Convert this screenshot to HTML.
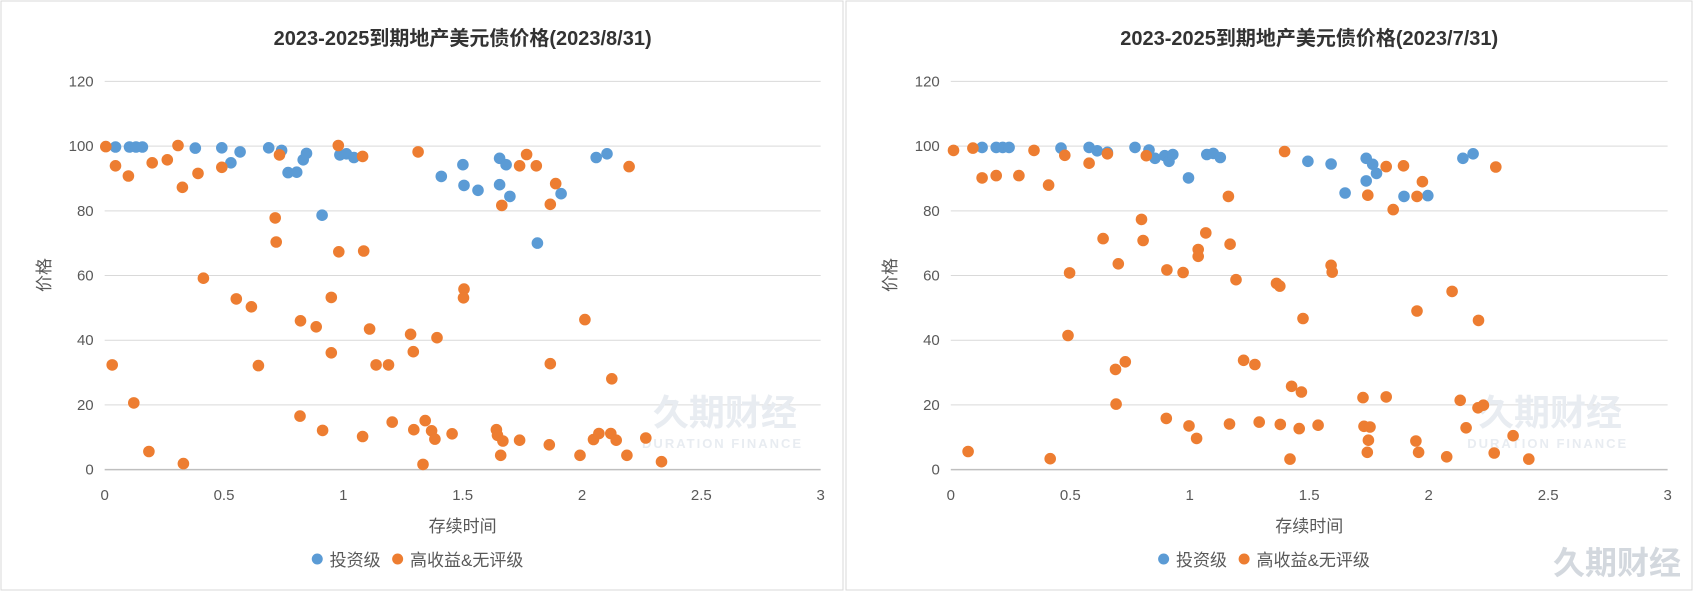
<!DOCTYPE html>
<html><head><meta charset="utf-8"><style>
html,body{margin:0;padding:0;background:#fff;}
svg text{font-family:"Liberation Sans","Noto Sans CJK SC",sans-serif;}
</style></head><body>
<svg id="s" width="1693" height="591" xmlns="http://www.w3.org/2000/svg"></svg>
<script>
const S=document.getElementById('s');
let h='';
h+='<rect x="1" y="1" width="842" height="589" fill="#fff" stroke="#d9d9d9"/>';
h+='<rect x="846" y="1" width="846" height="589" fill="#fff" stroke="#d9d9d9"/>';
function panel(ox,sx,title,blue,orange,wx){
  const x0=ox+194*sx, x3=ox+1521*sx, ux=(x3-x0)/3;
  const sy=591/1568, y0=1246*sy, y120=216*sy, uy=(y0-y120)/120;
  let g='';
  for(let v=0;v<=120;v+=20){const y=y0-v*uy;
    g+=`<line x1="${x0}" x2="${x3}" y1="${y}" y2="${y}" stroke="${v==0?'#bfbfbf':'#d9d9d9'}" stroke-width="${v==0?1.5:1}"/>`;
    g+=`<text x="${x0-11}" y="${y+5}" text-anchor="end" font-size="15" fill="#595959">${v}</text>`;}
  [0,0.5,1,1.5,2,2.5,3].forEach(v=>{g+=`<text x="${x0+v*ux}" y="500" text-anchor="middle" font-size="15" fill="#595959">${v}</text>`;});
  const cx=(x0+x3)/2;
  g+=`<text x="${cx}" y="45" text-anchor="middle" font-size="20" font-weight="bold" fill="#333">${title}</text>`;
  g+=`<text x="${cx}" y="532" text-anchor="middle" font-size="17" fill="#595959">存续时间</text>`;
  g+=`<text transform="translate(${ox+50},275) rotate(-90)" text-anchor="middle" font-size="17" fill="#595959">价格</text>`;
  g+=`<text x="${ox+wx*sx}" y="425" font-size="36" font-weight="bold" fill="#e8ecf1">久期财经</text>`;
  g+=`<text x="${ox+(wx-20)*sx}" y="448" font-size="13" font-weight="bold" fill="#e8ecf1" letter-spacing="2">DURATION FINANCE</text>`;
  g+=`<circle cx="${ox+588*sx}" cy="559" r="5.5" fill="#5B9BD5"/><text x="${ox+611*sx}" y="566" font-size="17" fill="#595959">投资级</text>`;
  g+=`<circle cx="${ox+737*sx}" cy="559" r="5.5" fill="#ED7D31"/><text x="${ox+760*sx}" y="566" font-size="17" fill="#595959">高收益&amp;无评级</text>`;
  const dot=(p,c)=>{p.forEach(([a,b])=>{g+=`<circle cx="${(ox+a*sx).toFixed(1)}" cy="${(b*sy).toFixed(1)}" r="5.8" fill="${c}"/>`;});};
  dot(blue,'#5B9BD5');dot(orange,'#ED7D31');
  return g;
}
const lb=[[214,390],[240,390],[252,390],[264,390],[362,393],[411,392],[428,432],[445,403],[498,392],[522,399],[534,458],[550,457],[562,424],[568,407],[597,571],[630,411],[642,408],[656,418],[818,468],[858,437],[860,492],[886,505],[926,420],[938,437],[926,490],[945,521],[996,645],[1040,514],[1105,418],[1125,408]];
const lo=[[196,389],[214,440],[238,467],[282,432],[310,424],[330,386],[338,497],[367,460],[411,444],[518,411],[510,578],[512,642],[627,386],[672,415],[628,668],[674,666],[775,403],[963,440],[976,410],[994,440],[930,545],[1020,542],[1030,487],[1166,442],[377,738],[438,793],[466,814],[614,789],[860,767],[859,790],[557,851],[586,867],[685,873],[1084,848],[761,887],[810,896],[614,936],[766,933],[208,968],[479,970],[697,968],[720,968],[1020,965],[1134,1005],[248,1069],[556,1104],[598,1142],[672,1158],[727,1120],[767,1140],[788,1116],[800,1143],[806,1165],[838,1151],[920,1140],[922,1155],[932,1170],[928,1208],[963,1168],[1018,1180],[1075,1208],[1100,1166],[1110,1150],[1132,1150],[1142,1168],[1162,1208],[1197,1162],[1226,1225],[276,1198],[340,1230],[784,1232]];
const rb=[[252,391],[278,391],[290,391],[302,391],[398,393],[450,391],[465,400],[484,404],[535,391],[561,398],[572,420],[590,413],[598,428],[605,410],[634,472],[668,410],[680,407],[693,418],[855,428],[898,435],[924,512],[963,420],[975,436],[982,460],[963,480],[1033,521],[1077,519],[1142,420],[1161,408]];
const ro=[[199,399],[235,393],[252,472],[278,466],[320,466],[348,399],[375,491],[405,412],[450,433],[484,408],[556,413],[812,402],[708,521],[966,518],[1000,442],[1032,440],[1067,482],[1057,521],[1013,556],[1203,443],[547,582],[476,633],[550,638],[666,618],[652,662],[652,680],[711,648],[414,724],[504,700],[594,716],[624,723],[722,742],[797,752],[803,759],[898,704],[900,722],[1122,773],[1057,825],[846,845],[1171,850],[411,890],[499,980],[517,960],[736,956],[757,967],[825,1025],[843,1040],[500,1072],[957,1055],[1000,1053],[1137,1062],[1170,1082],[1180,1075],[593,1110],[635,1130],[649,1163],[710,1125],[765,1120],[804,1126],[839,1137],[874,1128],[959,1131],[970,1133],[967,1168],[965,1200],[1148,1135],[1055,1170],[1060,1200],[1112,1212],[1200,1202],[1235,1156],[1264,1218],[226,1198],[378,1217],[822,1218]];
h+=panel(0,846/1568,'2023-2025到期地产美元债价格(2023/8/31)',lb,lo,1210);
h+=panel(846,847/1568,'2023-2025到期地产美元债价格(2023/7/31)',rb,ro,1170);
h+='<text x="1553" y="574" font-size="32" font-weight="bold" fill="#d3d8de">久期财经</text>';
S.innerHTML=h;
</script>
</body></html>
